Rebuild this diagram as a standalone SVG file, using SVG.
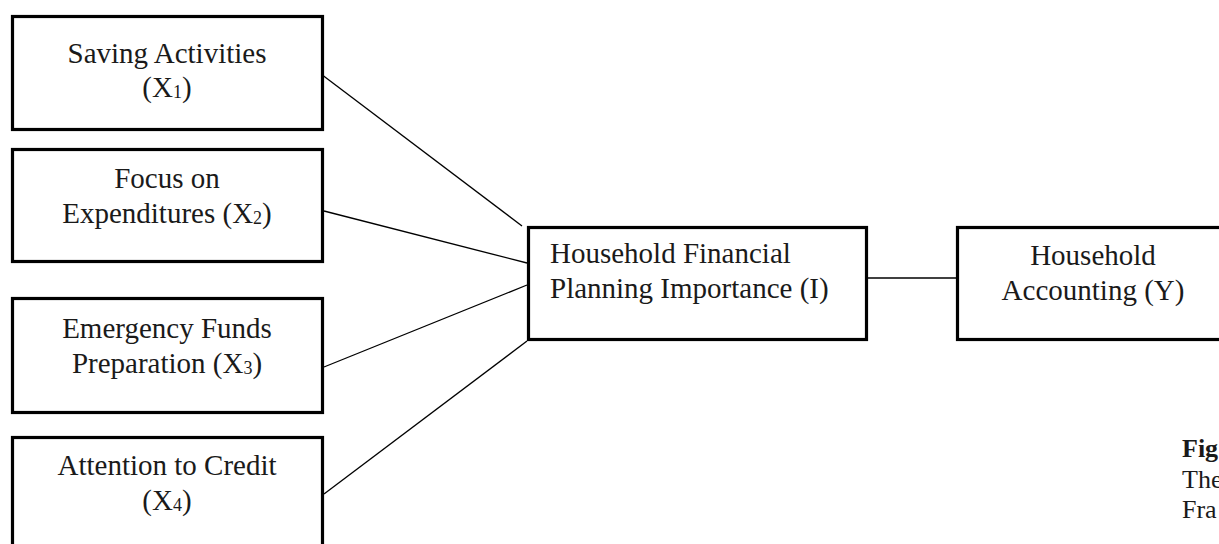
<svg xmlns="http://www.w3.org/2000/svg" width="1219" height="544" viewBox="0 0 1219 544">
<style>
.box{fill:#fff;stroke:#000;stroke-width:3.2}
.t{font-family:"Liberation Serif","Times New Roman",serif;font-size:29px;fill:#1a1a1a}
.c{text-anchor:middle}
.sub{font-size:18px}
.conn{stroke:#000;stroke-width:1.3;fill:none}
.cap{font-family:"Liberation Serif","Times New Roman",serif;font-size:26px;fill:#1a1a1a}
</style>
<rect width="1219" height="544" fill="#fff"/>
<g id="connectors">
<line class="conn" x1="317" y1="71" x2="522" y2="226"/>
<line class="conn" x1="324" y1="211" x2="527" y2="263"/>
<line class="conn" x1="324" y1="367" x2="527" y2="285"/>
<line class="conn" x1="324" y1="494" x2="527" y2="341"/>
<line class="conn" x1="868" y1="278" x2="956" y2="278"/>
</g>
<g id="x1">
<rect class="box" x="12.5" y="16.5" width="310" height="113"/>
<text class="t c" x="167" y="63">Saving Activities</text>
<text class="t c" x="167" y="97">(X<tspan class="sub" dy="1">1</tspan><tspan dy="-1">)</tspan></text>
</g>
<g id="x2">
<rect class="box" x="12.5" y="149.5" width="310" height="112"/>
<text class="t c" x="167" y="188">Focus on</text>
<text class="t c" x="167" y="223">Expenditures (X<tspan class="sub" dy="1">2</tspan><tspan dy="-1">)</tspan></text>
</g>
<g id="x3">
<rect class="box" x="12.5" y="298.5" width="310" height="114"/>
<text class="t c" x="167" y="338">Emergency Funds</text>
<text class="t c" x="167" y="373">Preparation (X<tspan class="sub" dy="1">3</tspan><tspan dy="-1">)</tspan></text>
</g>
<g id="x4">
<rect class="box" x="12.5" y="437.5" width="310" height="120"/>
<text class="t c" x="167" y="475">Attention to Credit</text>
<text class="t c" x="167" y="510">(X<tspan class="sub" dy="1">4</tspan><tspan dy="-1">)</tspan></text>
</g>
<g id="i">
<rect class="box" x="528.5" y="227.5" width="338" height="112"/>
<text class="t" x="550" y="263">Household Financial</text>
<text class="t" x="550" y="298">Planning Importance (I)</text>
</g>
<g id="y">
<rect class="box" x="957.5" y="227.5" width="280" height="112"/>
<text class="t c" x="1093" y="265">Household</text>
<text class="t c" x="1093" y="300">Accounting (Y)</text>
</g>
<g id="caption">
<text class="cap" x="1182" y="457" font-weight="bold">Fig</text>
<text class="cap" x="1182" y="488">The</text>
<text class="cap" x="1182" y="518">Fra</text>
</g>
</svg>
